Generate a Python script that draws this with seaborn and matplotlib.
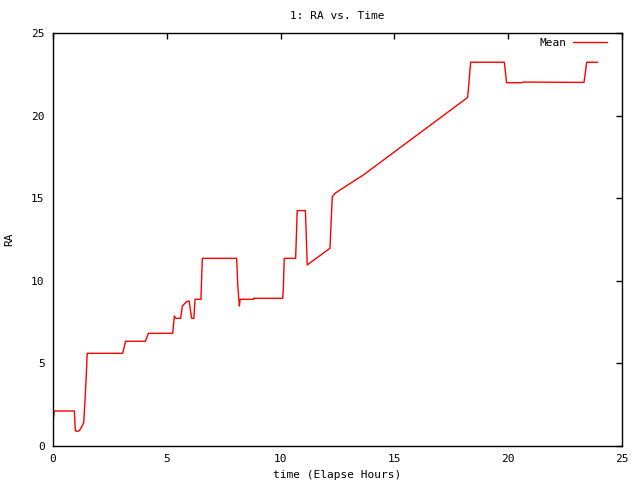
import pandas as pd
import matplotlib
matplotlib.use("Agg")
import matplotlib.pyplot as plt
import seaborn as sns

# values
time = [0.00, 0.05, 0.94, 0.98, 1.05, 1.16, 1.26, 1.35, 1.42, 1.48, 1.50,
        3.06, 3.19, 4.06, 4.19, 5.26, 5.33, 5.40, 5.61, 5.68, 5.87, 5.98,
        6.09, 6.19, 6.24, 6.50, 6.56, 8.07, 8.11, 8.16, 8.19, 8.22, 8.80,
        8.82, 10.09, 10.12, 10.16, 10.66, 10.73, 11.09, 11.17, 12.17, 12.27,
        12.39, 12.61, 13.63, 18.22, 18.35, 19.83, 19.93, 20.60,
        20.66, 23.33, 23.45, 23.93]
ra = [1.30, 2.12, 2.12, 0.93, 0.88, 0.93, 1.17, 1.41, 3.13, 4.80, 5.61,
      5.61, 6.34, 6.34, 6.82, 6.82, 7.87, 7.73, 7.73, 8.47, 8.74, 8.78,
      7.73, 7.73, 8.88, 8.88, 11.36, 11.36, 9.95, 8.94, 8.47, 8.88, 8.88,
      8.94, 8.94, 9.49, 11.36, 11.36, 14.25, 14.25, 10.96, 11.97, 15.09,
      15.29, 15.50, 16.40, 21.10, 23.23, 23.23, 21.99, 21.99,
      22.03, 22.01, 23.23, 23.23]

df = pd.DataFrame({"time": time, "RA": ra, "series": "Mean"})

sns.set_style("white")
plt.rcParams['font.family'] = ['DejaVu Sans Mono']
plt.rcParams['text.color'] = 'black'
plt.rcParams['axes.labelcolor'] = 'black'

fig = plt.figure(figsize=(6.4, 4.8), dpi=100)
ax = fig.add_axes([53/640, 34/480, 569/640, 413/480])

sns.lineplot(data=df, x="time", y="RA", hue="series", palette=["#ff0000"],
             estimator=None, sort=False, linewidth=1.0, ax=ax)

ax.set_xlim(0, 25)
ax.set_ylim(0, 25)
ax.set_xticks(range(0, 26, 5))
ax.set_yticks(range(0, 26, 5))
ax.tick_params(direction="in", length=4, width=1, top=True, right=True,
               labelsize=8, colors="black", pad=6)
for s in ax.spines.values():
    s.set_color("black")
    s.set_linewidth(1)

ax.set_title("1: RA vs. Time", fontsize=8, pad=10, color="black")
ax.set_xlabel("time (Elapse Hours)", fontsize=8, labelpad=4)
ax.set_ylabel("RA", fontsize=8, rotation=90, va="center")
ax.yaxis.set_label_coords(-0.077, 0.5)

ax.legend(loc="upper right", frameon=False, fontsize=8, markerfirst=False,
          handlelength=3.1, handletextpad=0.55, borderaxespad=0,
          bbox_to_anchor=(0.982, 0.998))

fig.savefig("out.png", dpi=100)
